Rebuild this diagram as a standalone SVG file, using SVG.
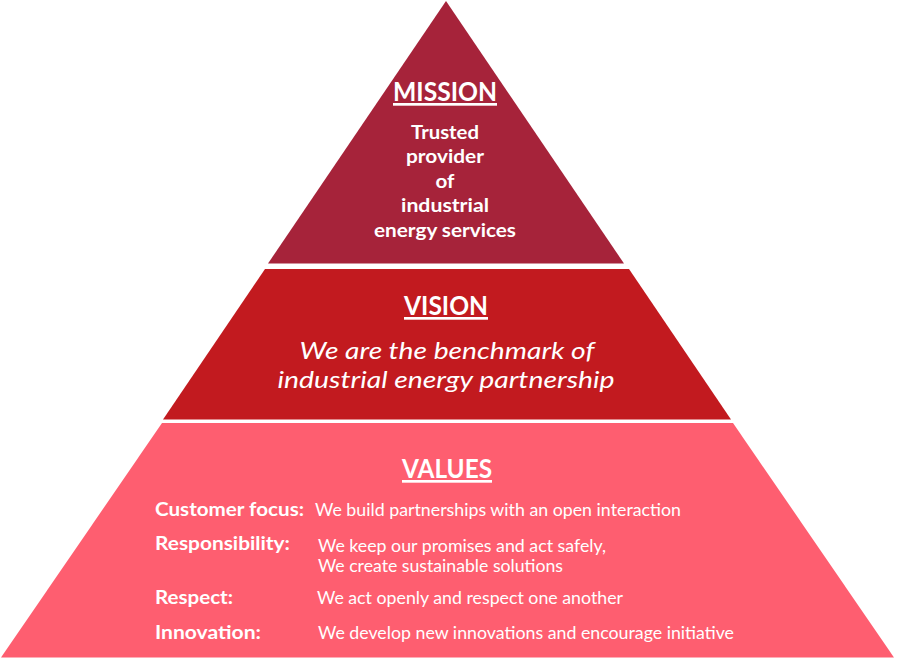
<svg xmlns="http://www.w3.org/2000/svg" width="897" height="663" viewBox="0 0 897 663">
<style>
.t{fill:#ffffff;font-family:Lato,"Open Sans","Liberation Sans",sans-serif}
.h{font-weight:700;font-size:27px;text-anchor:middle;text-decoration:underline}
.m{font-weight:700;font-size:19px;text-anchor:middle}
.v{font-style:italic;font-size:24px;text-anchor:middle}
.l{font-weight:700;font-size:18.5px}
.d{font-size:16.5px}
</style>
<rect x="0" y="0" width="897" height="663" fill="#ffffff"/>
<g id="mission">
<polygon points="446,1 624,263.5 268,263.5" fill="#A6233A"/>
<text class="t h" x="445" y="101" textLength="104" lengthAdjust="spacingAndGlyphs">MISSION</text>
<text class="t m" x="445" y="139" textLength="68" lengthAdjust="spacingAndGlyphs">Trusted</text>
<text class="t m" x="445" y="163" textLength="78" lengthAdjust="spacingAndGlyphs">provider</text>
<text class="t m" x="445" y="188" textLength="19" lengthAdjust="spacingAndGlyphs">of</text>
<text class="t m" x="445" y="212" textLength="88" lengthAdjust="spacingAndGlyphs">industrial</text>
<text class="t m" x="445" y="237" textLength="142" lengthAdjust="spacingAndGlyphs">energy services</text>
</g>
<g id="vision">
<polygon points="265,269 629,269 731,419.5 163,419.5" fill="#C21A1F"/>
<text class="t h" x="446" y="315" textLength="84" lengthAdjust="spacingAndGlyphs">VISION</text>
<text class="t v" x="447" y="359" textLength="295" lengthAdjust="spacingAndGlyphs">We are the benchmark of</text>
<text class="t v" x="446" y="388" textLength="337" lengthAdjust="spacingAndGlyphs">industrial energy partnership</text>
</g>
<g id="values">
<polygon points="162,423 733,423 894,657.5 1,657.5" fill="#FE5E70"/>
<text class="t h" x="447" y="478" textLength="90" lengthAdjust="spacingAndGlyphs">VALUES</text>
<text class="t l" x="155" y="516" textLength="149" lengthAdjust="spacingAndGlyphs">Customer focus:</text>
<text class="t d" x="315" y="516" textLength="366" lengthAdjust="spacingAndGlyphs">We build partnerships with an open interaction</text>
<text class="t l" x="155" y="550" textLength="135" lengthAdjust="spacingAndGlyphs">Responsibility:</text>
<text class="t d" x="318" y="552" textLength="288" lengthAdjust="spacingAndGlyphs">We keep our promises and act safely,</text>
<text class="t d" x="318" y="572" textLength="245" lengthAdjust="spacingAndGlyphs">We create sustainable solutions</text>
<text class="t l" x="155" y="604" textLength="78" lengthAdjust="spacingAndGlyphs">Respect:</text>
<text class="t d" x="317" y="604" textLength="306" lengthAdjust="spacingAndGlyphs">We act openly and respect one another</text>
<text class="t l" x="155" y="639" textLength="106" lengthAdjust="spacingAndGlyphs">Innovation:</text>
<text class="t d" x="318" y="639" textLength="416" lengthAdjust="spacingAndGlyphs">We develop new innovations and encourage initiative</text>
</g>
<g id="connectors"></g>
</svg>
